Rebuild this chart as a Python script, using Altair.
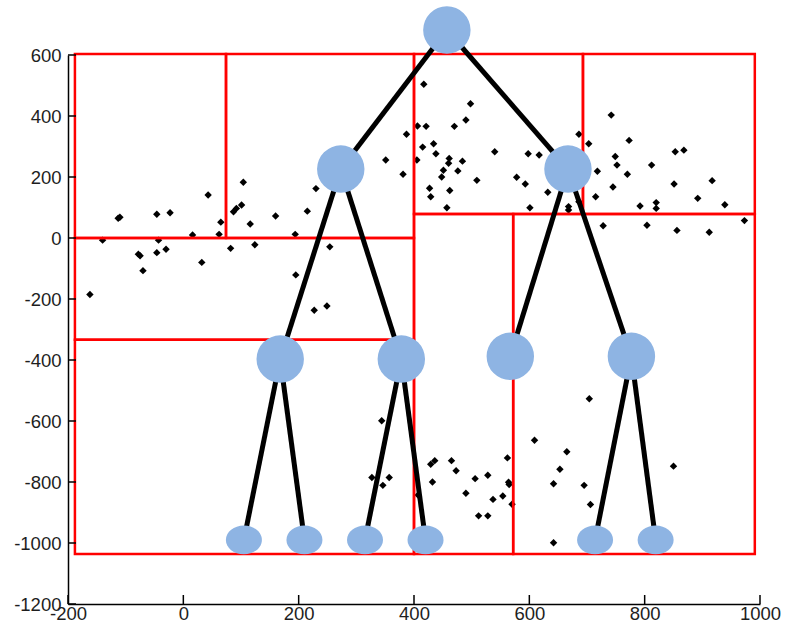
import altair as alt
import pandas as pd

# ---- scatter points (data units) ----
pts_x = [-162, -140, -113, -110, -78, -75, -70, -46, -46, -43, -30, -23, 16, 32, 43, 62, 65, 82,
         87, 92, 101, 104, 116, 124, 160, 194, 195, 215, 227, 230, 249, 254, 351, 381, 387, 406,
         405, 417, 498, 490, 421, 470, 434, 415, 438, 461, 460, 484, 451, 476, 448, 540, 509,
         427, 429, 462, 457, 598, 617, 578, 593, 632, 601, 668, 668, 686, 686, 703, 718, 715,
         742, 773, 749, 752, 770, 745, 812, 792, 820, 820, 853, 868, 851, 917, 892, 939, 728,
         804, 856, 912, 973,
         704, 609, 665, 653, 642, 695, 706, 642, 850, 429, 436, 432, 465, 473, 490, 506, 528,
         562, 564, 565, 537, 554, 570, 512, 528, 344, 327, 357, 346, 407]
pts_y = [-185, -7, 65, 68, -53, -58, -107, 78, -48, -7, -37, 83, 10, -80, 141, 12, 52, -34,
         86, 97, 108, 183, 46, -22, 72, 12, -121, 88, -237, 162, -223, -29, 256, 209, 340, 367,
         256, 504, 440, 387, 366, 366, 309, 298, 276, 261, 245, 252, 222, 220, 200, 283, 189,
         163, 135, 156, 99, 276, 272, 199, 177, 150, 99, 103, 92, 340, 119, 309, 219, 135,
         403, 320, 267, 239, 209, 167, 239, 105, 116, 97, 283, 288, 177, 188, 130, 109, 40,
         42, 25, 19, 57,
         -527, -663, -701, -758, -806, -811, -874, -999, -748, -742, -730, -800, -730, -763,
         -837, -789, -778, -721, -801, -808, -857, -846, -873, -911, -911, -599, -785, -785,
         -811, -843]

# ---- k-d tree cells ----
cell_x1 = [-188, 74, -188, -188, 400, 693, 400, 572]
cell_x2 = [74, 400, 400, 400, 693, 991, 572, 991]
cell_y1 = [0, 0, -334, -1036, 79, 79, -1036, -1036]
cell_y2 = [603, 603, 0, -334, 603, 603, 79, 79]

# ---- tree nodes ----
node_x = [457, 273, 667, 168, 378, 567, 777, 105, 210, 315, 420, 714, 819]
node_y = [682, 226, 226, -397, -397, -388, -388, -990, -990, -990, -990, -990, -990]
node_leaf = [0, 0, 0, 0, 0, 0, 0, 1, 1, 1, 1, 1, 1]
node_parent = [-1, 0, 0, 1, 1, 2, 2, 3, 3, 4, 4, 6, 6]

x_ticks = [-200, 0, 200, 400, 600, 800, 1000]
y_ticks = [-1200, -1000, -800, -600, -400, -200, 0, 200, 400, 600]

pts = pd.DataFrame({"x": pts_x, "y": pts_y})
cells = pd.DataFrame({"x1": cell_x1, "x2": cell_x2, "y1": cell_y1, "y2": cell_y2})
nodes = pd.DataFrame({"x": node_x, "y": node_y, "leaf": node_leaf})
edges = pd.DataFrame([
    {"x1": node_x[p], "y1": node_y[p], "x2": node_x[i], "y2": node_y[i]}
    for i, p in enumerate(node_parent) if p >= 0
])
xt = pd.DataFrame({"v": x_ticks})
yt = pd.DataFrame({"v": y_ticks})

W, H = 692, 549
xs = alt.Scale(domain=[-200, 1000], nice=False, zero=False)
ys = alt.Scale(domain=[-1200, 600], nice=False, zero=False)
common = dict(ticks=False, grid=False, title=None, domainColor="black", domainWidth=1.5,
              labelFont="Liberation Sans", labelFontSize=18.5, labelColor="#1e1e1e",
              labelFlush=False, labelOverlap=False, labelBound=False,
              labelExpr="'' + datum.value")
xa = alt.Axis(values=x_ticks, labelPadding=0, **common)
ya = alt.Axis(values=y_ticks, labelPadding=7, **common)

points = alt.Chart(pts).mark_point(shape="diamond", filled=True, size=55, color="black", opacity=1).encode(
    x=alt.X("x:Q", scale=xs, axis=xa), y=alt.Y("y:Q", scale=ys, axis=ya))

rects = alt.Chart(cells).mark_rect(fillOpacity=0, stroke="#FF0000", strokeWidth=2.5).encode(
    x=alt.X("x1:Q", scale=xs, axis=xa), x2="x2:Q",
    y=alt.Y("y1:Q", scale=ys, axis=ya), y2="y2:Q")

xticks = alt.Chart(xt).mark_rule(color="black", strokeWidth=1.5).encode(
    x=alt.X("v:Q", scale=xs, axis=xa), y=alt.value(H), y2=alt.value(H - 9))
yticks = alt.Chart(yt).mark_rule(color="black", strokeWidth=1.5).encode(
    y=alt.Y("v:Q", scale=ys, axis=ya), x=alt.value(0), x2=alt.value(8))

lines = alt.Chart(edges).mark_rule(color="black", strokeWidth=5).encode(
    x=alt.X("x1:Q", scale=xs, axis=xa), x2="x2:Q",
    y=alt.Y("y1:Q", scale=ys, axis=ya), y2="y2:Q")

inner = alt.Chart(nodes).transform_filter("datum.leaf == 0").mark_point(
    shape="circle", filled=True, size=2250, color="#8EB4E3", opacity=1, strokeWidth=0).encode(
    x=alt.X("x:Q", scale=xs, axis=xa), y=alt.Y("y:Q", scale=ys, axis=ya))

leaves = alt.Chart(nodes).transform_filter("datum.leaf == 1").mark_point(
    shape="M -1 0 A 1 0.8 0 1 1 1 0 A 1 0.8 0 1 1 -1 0 Z", filled=True, size=1296,
    color="#8EB4E3", opacity=1, strokeWidth=0).encode(
    x=alt.X("x:Q", scale=xs, axis=xa), y=alt.Y("y:Q", scale=ys, axis=ya))

chart = alt.layer(points, rects, xticks, yticks, lines, inner, leaves).properties(
    width=W, height=H,
    padding={"left": 68, "top": 55, "right": 25, "bottom": 29},
    autosize=alt.AutoSizeParams(type="none"),
    background="white",
).configure_view(stroke=None)

chart.save("out.html", embed_options={"renderer": "svg", "actions": False})
